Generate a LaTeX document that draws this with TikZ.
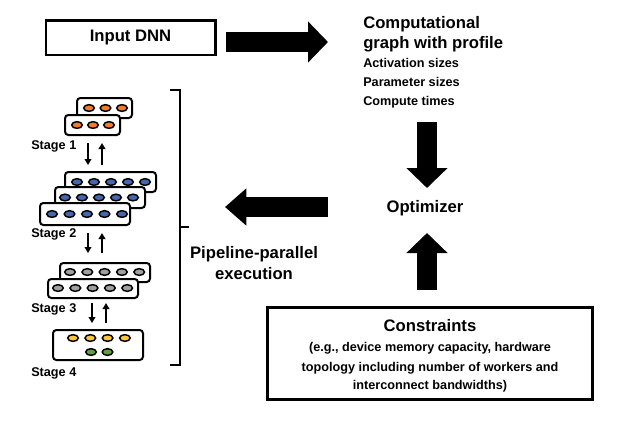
\documentclass[tikz,border=0pt]{standalone}
\usepackage{fontspec}
\setmainfont{Liberation Sans}
\usepackage{tikz}
\usepackage{xcolor}
\definecolor{cOrange}{RGB}{237,125,49}
\definecolor{cBlue}{RGB}{68,104,176}
\definecolor{cGray}{RGB}{160,160,160}
\definecolor{cYellow}{RGB}{250,198,60}
\definecolor{cGreen}{RGB}{96,160,64}
\usetikzlibrary{arrows.meta}
\usetikzlibrary{shapes.geometric}

\begin{document}
\begin{tikzpicture}[x=0.75pt,y=-0.75pt]
\tikzstyle{plainBox} = [
  draw = black,
  line width = 2pt,
  fill = white,
  inner sep = 0pt
]
\tikzstyle{layerBox} = [
  draw = black,
  line width = 1.5pt,
  rounded corners = 2.5pt,
  fill = white
]
\tikzstyle{unit} = [
  shape=ellipse,
  minimum width=8pt,
  minimum height=5pt,
  inner sep=0pt,
  draw = black,
  line width = 1.1pt
]
\tikzstyle{fatArrow} = [
  line width = 15pt,
  -{Triangle[length=15pt,width=30pt]}
]
\tikzstyle{thinArrow} = [
  line width = 1.3pt,
  -{Triangle[length=4.5pt,width=5pt]}
]
\tikzstyle{stageText} = [
  anchor=west,
  inner sep=0pt,
  font=\bfseries\fontsize{9.5}{11}\selectfont
]
\tikzstyle{bigText} = [
  inner sep=0pt,
  font=\bfseries\fontsize{12.5}{15}\selectfont
]
\tikzstyle{smallLines} = [
  inner sep=0pt,
  font=\bfseries\fontsize{9.5}{14.5}\selectfont
]

\useasboundingbox (0,0) rectangle (641,426);

% input and profile
\node[plainBox, bigText, minimum width=127pt, minimum height=26pt] (dnn) at (130.5,37.5) {Input DNN};
\node[smallLines, anchor=north west, align=left] (profile) at (363,16)
  {{\fontsize{12.5}{15}\selectfont Computational}\\[0.25pt]
   {\fontsize{12.5}{15}\selectfont graph with profile}\\[-0.25pt]
   Activation sizes\\
   Parameter sizes\\
   Compute times};
\node[bigText] (opt) at (425,208) {Optimizer};
\node[bigText, align=center] (pipe) at (254,263) {Pipeline-parallel\\[1pt]execution};
\node[plainBox, line width=2.5pt, minimum width=244pt, minimum height=69pt] (cons) at (430,353.5) {};
\node[smallLines, align=center] (constext) at (430,356)
  {{\fontsize{12.5}{15}\selectfont Constraints}\\[0pt]
   (e.g., device memory capacity, hardware\\[0.5pt]
   topology including number of workers and\\[-0.5pt]
   interconnect bandwidths)};

% big arrows
\coordinate (a1) at (226,42);
\coordinate (a2) at (328,42);
\coordinate (b1) at (427,122);
\coordinate (b2) at (427,188);
\coordinate (c1) at (427,290);
\coordinate (c2) at (427,233);
\coordinate (d1) at (328,207);
\coordinate (d2) at (225,207);
\draw[fatArrow] (a1) -- (a2);
\draw[fatArrow] (b1) -- (b2);
\draw[fatArrow] (c1) -- (c2);
\draw[fatArrow, -{Triangle[length=16pt,width=27pt]}] (d1) -- (d2);

% bracket
\draw[line width=1.5pt] (170,90) -- (180,90) -- (180,365) -- (170,365);
\draw[line width=1.5pt] (180,227) -- (189,227);

% stage 1
\draw[layerBox] (77,98) rectangle (132,118);
\foreach \i in {0,1,2} \node[unit, fill=cOrange] (s1b\i) at ({89+16.5*\i},108) {};
\draw[layerBox] (65,115) rectangle (120,135);
\foreach \i in {0,1,2} \node[unit, fill=cOrange] (s1f\i) at ({77+16*\i},125) {};
\node[stageText] (st1) at (31,146) {Stage 1};

% stage 2
\draw[layerBox] (65,172) rectangle (156,192);
\foreach \i in {0,...,4} \node[unit, fill=cBlue] (s2b\i) at ({77+17*\i},182) {};
\draw[layerBox] (55,187) rectangle (145,208);
\foreach \i in {0,...,4} \node[unit, fill=cBlue] (s2m\i) at ({65+17*\i},197.5) {};
\draw[layerBox] (40,203) rectangle (130,225);
\foreach \i in {0,...,4} \node[unit, fill=cBlue] (s2f\i) at ({52+17.5*\i},214) {};
\node[stageText] (st2) at (31,234) {Stage 2};

% stage 3
\draw[layerBox] (60,263) rectangle (150,282);
\foreach \i in {0,...,4} \node[unit, fill=cGray] (s3b\i) at ({70+17.3*\i},272) {};
\draw[layerBox] (48,279) rectangle (138,298);
\foreach \i in {0,...,4} \node[unit, fill=cGray] (s3f\i) at ({58+17.3*\i},288) {};
\node[stageText] (st3) at (31,309) {Stage 3};

% stage 4
\draw[layerBox] (53,330) rectangle (143,360);
\foreach \i in {0,...,3} \node[unit, fill=cYellow] (s4y\i) at ({73+17.3*\i},338) {};
\foreach \i in {0,1} \node[unit, fill=cGreen] (s4g\i) at ({91+16.5*\i},352) {};
\node[stageText] (st4) at (31,373) {Stage 4};

% small arrows between stages
\coordinate (u1) at (88,143);
\coordinate (l1) at (88,165);
\coordinate (u2) at (102,143);
\coordinate (l2) at (102,165);
\coordinate (u3) at (88,233);
\coordinate (l3) at (88,253);
\coordinate (u4) at (102,233);
\coordinate (l4) at (102,253);
\coordinate (u5) at (92,303);
\coordinate (l5) at (92,323);
\coordinate (u6) at (106,303);
\coordinate (l6) at (106,323);
\draw[thinArrow] (u1) -- (l1);
\draw[thinArrow] (l2) -- (u2);
\draw[thinArrow] (u3) -- (l3);
\draw[thinArrow] (l4) -- (u4);
\draw[thinArrow] (u5) -- (l5);
\draw[thinArrow] (l6) -- (u6);

\end{tikzpicture}
\end{document}
